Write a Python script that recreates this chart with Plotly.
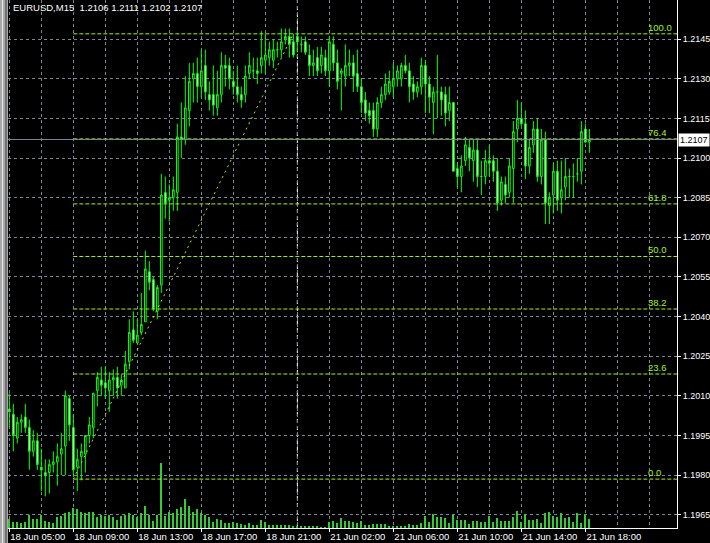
import plotly.graph_objects as go

# ---------------- data (EURUSD M15) ----------------
bar_index = list(range(146))

open_ = [1.2005,1.2003,1.1994,1.2000,1.2002,1.1998,1.1989,1.1993,1.1983,1.1981,
         1.1981,1.1984,1.1985,1.1988,1.1991,1.2009,1.1998,1.1983,1.1987,1.1988,
         1.1995,1.1998,1.2012,1.2016,1.2015,1.2012,1.2016,1.2017,1.2014,1.2013,
         1.2023,1.2035,1.2030,1.2034,1.2038,1.2057,1.2054,1.2042,1.2052,1.2087,
         1.2084,1.2085,1.2087,1.2108,1.2107,1.2118,1.2130,1.2132,1.2127,1.2135,
         1.2124,1.2124,1.2119,1.2124,1.2135,1.2135,1.2129,1.2127,1.2124,1.2124,
         1.2132,1.2133,1.2133,1.2135,1.2137,1.2138,1.2137,1.2141,1.2141,1.2145,
         1.2146,1.2144,1.2146,1.2143,1.2144,1.2139,1.2135,1.2138,1.2135,1.2138,
         1.2133,1.2143,1.2136,1.2132,1.2131,1.2135,1.2136,1.2132,1.2127,1.2122,
         1.2118,1.2118,1.2111,1.2121,1.2124,1.2125,1.2127,1.2130,1.2130,1.2135,
         1.2133,1.2128,1.2125,1.2127,1.2135,1.2128,1.2121,1.2125,1.2125,1.2124,
         1.2118,1.2121,1.2096,1.2093,1.2099,1.2104,1.2099,1.2103,1.2093,1.2093,
         1.2099,1.2099,1.2095,1.2084,1.2090,1.2087,1.2096,1.2111,1.2115,1.2113,
         1.2097,1.2105,1.2111,1.2093,1.2107,1.2082,1.2086,1.2095,1.2085,1.2089,
         1.2093,1.2093,1.2094,1.2095,1.2111,1.2106]
high = [1.2011,1.2007,1.2002,1.2003,1.2007,1.2001,1.1997,1.1996,1.1990,1.1986,
        1.1986,1.1989,1.1992,1.1996,1.2012,1.2010,1.2003,1.1990,1.1992,1.1995,
        1.2002,1.2011,1.2019,1.2021,1.2021,1.2019,1.2020,1.2021,1.2018,1.2027,
        1.2039,1.2042,1.2039,1.2049,1.2065,1.2061,1.2055,1.2052,1.2094,1.2093,
        1.2090,1.2093,1.2113,1.2121,1.2131,1.2136,1.2136,1.2138,1.2141,1.2141,
        1.2129,1.2135,1.2133,1.2140,1.2139,1.2138,1.2133,1.2135,1.2127,1.2135,
        1.2140,1.2138,1.2138,1.2148,1.2147,1.2144,1.2145,1.2144,1.2149,1.2149,
        1.2149,1.2147,1.2148,1.2146,1.2146,1.2143,1.2141,1.2142,1.2142,1.2141,
        1.2146,1.2146,1.2141,1.2134,1.2143,1.2141,1.2139,1.2141,1.2130,1.2125,
        1.2121,1.2121,1.2123,1.2127,1.2132,1.2133,1.2136,1.2135,1.2136,1.2139,
        1.2136,1.2131,1.2129,1.2138,1.2137,1.2131,1.2127,1.2139,1.2127,1.2127,
        1.2127,1.2121,1.2098,1.2101,1.2108,1.2107,1.2107,1.2107,1.2099,1.2103,
        1.2105,1.2101,1.2100,1.2093,1.2093,1.2100,1.2114,1.2122,1.2121,1.2118,
        1.2107,1.2114,1.2115,1.2111,1.2110,1.2087,1.2098,1.2099,1.2099,1.2100,
        1.2096,1.2098,1.2100,1.2114,1.2113,1.2111]
low = [1.1998,1.1989,1.1992,1.1996,1.1996,1.1982,1.1987,1.1982,1.1974,1.1972,
       1.1973,1.1981,1.1976,1.1980,1.1980,1.1993,1.1980,1.1974,1.1978,1.1981,
       1.1992,1.1994,1.2006,1.2010,1.2009,1.2004,1.2010,1.2009,1.2010,1.2013,
       1.2020,1.2030,1.2030,1.2033,1.2038,1.2050,1.2042,1.2039,1.2049,1.2077,
       1.2076,1.2080,1.2080,1.2100,1.2105,1.2112,1.2121,1.2121,1.2123,1.2122,
       1.2118,1.2116,1.2116,1.2121,1.2127,1.2126,1.2124,1.2121,1.2119,1.2121,
       1.2130,1.2130,1.2128,1.2132,1.2132,1.2135,1.2134,1.2138,1.2138,1.2143,
       1.2138,1.2138,1.2140,1.2140,1.2139,1.2131,1.2131,1.2131,1.2132,1.2131,
       1.2127,1.2133,1.2126,1.2118,1.2127,1.2131,1.2125,1.2125,1.2117,1.2114,
       1.2113,1.2108,1.2108,1.2119,1.2122,1.2124,1.2123,1.2127,1.2127,1.2132,
       1.2121,1.2122,1.2123,1.2124,1.2117,1.2117,1.2109,1.2115,1.2116,1.2112,
       1.2114,1.2095,1.2089,1.2087,1.2097,1.2095,1.2091,1.2089,1.2086,1.2090,
       1.2093,1.2091,1.2080,1.2082,1.2083,1.2085,1.2083,1.2106,1.2112,1.2092,
       1.2094,1.2102,1.2091,1.2090,1.2075,1.2075,1.2079,1.2080,1.2079,1.2084,
       1.2085,1.2085,1.2091,1.2090,1.2106,1.2102]
close = [1.2004,1.1995,1.2000,1.2001,1.1998,1.1989,1.1993,1.1984,1.1982,1.1980,
         1.1984,1.1985,1.1987,1.1990,1.2010,1.1999,1.1982,1.1986,1.1989,1.1995,
         1.1999,1.2011,1.2017,1.2014,1.2013,1.2016,1.2017,1.2013,1.2016,1.2022,
         1.2034,1.2031,1.2033,1.2037,1.2058,1.2053,1.2043,1.2051,1.2086,1.2083,
         1.2085,1.2088,1.2108,1.2107,1.2119,1.2129,1.2132,1.2127,1.2133,1.2125,
         1.2122,1.2120,1.2124,1.2135,1.2134,1.2130,1.2127,1.2124,1.2122,1.2131,
         1.2135,1.2133,1.2132,1.2138,1.2139,1.2141,1.2141,1.2141,1.2144,1.2146,
         1.2143,1.2139,1.2144,1.2143,1.2140,1.2135,1.2136,1.2133,1.2139,1.2133,
         1.2144,1.2136,1.2129,1.2133,1.2135,1.2136,1.2131,1.2127,1.2121,1.2117,
         1.2116,1.2111,1.2121,1.2124,1.2128,1.2129,1.2130,1.2133,1.2135,1.2133,
         1.2127,1.2125,1.2127,1.2135,1.2128,1.2123,1.2125,1.2125,1.2122,1.2117,
         1.2121,1.2095,1.2093,1.2097,1.2105,1.2100,1.2103,1.2093,1.2093,1.2099,
         1.2098,1.2095,1.2083,1.2091,1.2086,1.2097,1.2110,1.2115,1.2113,1.2097,
         1.2104,1.2111,1.2093,1.2107,1.2083,1.2085,1.2095,1.2084,1.2088,1.2093,
         1.2093,1.2093,1.2094,1.2110,1.2106,1.2107]
volume = [87,63,63,47,63,130,87,87,130,73,63,47,113,120,147,163,197,187,163,147,
          160,160,113,130,120,130,113,80,120,130,153,130,113,147,220,130,73,130,650,120,
          163,147,187,213,287,220,163,187,147,130,113,63,87,80,53,53,63,53,40,30,
          47,30,30,80,63,30,30,30,30,30,30,23,20,20,13,13,20,13,10,10,
          63,73,53,97,73,73,63,53,73,30,30,40,40,40,40,20,13,13,13,20,
          40,30,30,53,120,63,140,113,113,97,53,130,80,80,80,40,73,73,63,63,
          120,63,97,73,73,73,113,170,63,140,80,80,87,53,153,163,120,107,147,97,
          113,63,147,47,140,87]

time_tick_bars = [0, 16, 32, 48, 64, 80, 96, 112, 128, 144]
time_tick_labels = ["18 Jun 05:00", "18 Jun 09:00", "18 Jun 13:00", "18 Jun 17:00",
                    "18 Jun 21:00", "21 Jun 02:00", "21 Jun 06:00", "21 Jun 10:00",
                    "21 Jun 14:00", "21 Jun 18:00"]
price_ticks = [1.1965, 1.1980, 1.1995, 1.2010, 1.2025, 1.2040, 1.2055, 1.2070,
               1.2085, 1.2100, 1.2115, 1.2130, 1.2145, 1.2160]

fib_low, fib_high = 1.19785, 1.21470
fib_start_bar, fib_end_bar = 16, 71
fib_levels = [0.0, 23.6, 38.2, 50.0, 61.8, 76.4, 100.0]
day_separator_bar = 72
bid_price = 1.2107
header = "EURUSD,M15  1.2106 1.2111 1.2102 1.2107"

# ---------------- styling ----------------
FONT = "Liberation Sans"
FS = 9.5
FS_Y = 9
GRID = "#778899"
FIB = "#A4F02A"
X_RANGE = [-0.33, 166.9]
Y_RANGE = [1.19600, 1.21598]

fig = go.Figure()

fig.add_trace(go.Bar(
    x=bar_index, y=volume, yaxis="y2", width=0.22,
    marker=dict(color="#32CD32", line=dict(width=0)),
    hoverinfo="skip", showlegend=False))

fig.add_trace(go.Candlestick(
    x=bar_index, open=open_, high=high, low=low, close=close,
    increasing=dict(line=dict(color="#00FF00", width=1), fillcolor="black"),
    decreasing=dict(line=dict(color="#00FF00", width=1), fillcolor="white"),
    whiskerwidth=0, showlegend=False))

shapes = []
for lv in fib_levels:
    p = fib_low + (fib_high - fib_low) * lv / 100.0
    shapes.append(dict(type="line", xref="x", yref="y", x0=fib_start_bar, x1=X_RANGE[1],
                       y0=p, y1=p, line=dict(color=FIB, width=1, dash="4px,2px")))
shapes.append(dict(type="line", xref="x", yref="y", x0=fib_start_bar, x1=fib_end_bar,
                   y0=fib_low, y1=fib_high, line=dict(color=FIB, width=1, dash="2px,4px")))
shapes.append(dict(type="line", xref="x", yref="paper", x0=day_separator_bar, x1=day_separator_bar,
                   y0=0, y1=1, line=dict(color="white", width=1, dash="4px,3px"), layer="below"))
shapes.append(dict(type="line", xref="paper", yref="y", x0=0, x1=1, y0=bid_price, y1=bid_price,
                   line=dict(color=GRID, width=1)))
shapes.append(dict(type="rect", xref="paper", yref="paper", x0=-8/669, x1=0, y0=-15/528, y1=1,
                   fillcolor="#a8a8a8", line=dict(width=0)))
shapes.append(dict(type="rect", xref="paper", yref="paper", x0=-6/669, x1=-5/669, y0=-15/528, y1=1,
                   fillcolor="#e8e8e8", line=dict(width=0)))
shapes.append(dict(type="rect", xref="paper", yref="paper", x0=-3/669, x1=-1/669, y0=-15/528, y1=1,
                   fillcolor="#707070", line=dict(width=0)))

annotations = []
for lv in fib_levels:
    p = fib_low + (fib_high - fib_low) * lv / 100.0
    annotations.append(dict(xref="paper", yref="y", x=(647 - 8) / 669, y=p,
                            xanchor="left", yanchor="bottom", showarrow=False,
                            text=f"{lv:.1f}", font=dict(family=FONT, size=FS, color=FIB),
                            borderpad=0))
annotations.append(dict(xref="paper", yref="paper", x=4/669, y=1, xanchor="left", yanchor="top",
                        showarrow=False, text=header, yshift=-1,
                        font=dict(family=FONT, size=FS, color="white"), borderpad=0))
annotations.append(dict(xref="paper", yref="y", x=1, y=bid_price, xanchor="left", yanchor="middle",
                        showarrow=False, text=f"{bid_price:.4f}", xshift=1,
                        font=dict(family=FONT, size=FS_Y, color="black"),
                        bgcolor="white", borderpad=1))

fig.update_layout(
    width=710, height=543,
    margin=dict(l=8, r=33, t=0, b=15, autoexpand=False),
    paper_bgcolor="black", plot_bgcolor="black",
    showlegend=False, bargap=0, boxgap=0.4,
    font=dict(family=FONT, size=FS, color="white"),
    shapes=shapes, annotations=annotations,
    xaxis=dict(range=X_RANGE, rangeslider=dict(visible=False), automargin=False,
               tickmode="array", tickvals=time_tick_bars, ticktext=time_tick_labels,
               tickangle=0, ticks="outside", ticklen=3, tickcolor="white",
               ticklabelposition="outside right", ticklabelstandoff=0,
               tickfont=dict(family=FONT, size=FS, color="white"),
               showgrid=True, gridcolor=GRID, griddash="3px,3px", gridwidth=1,
               minor=dict(tickmode="linear", tick0=0, dtick=8, showgrid=True,
                          gridcolor=GRID, griddash="3px,3px", gridwidth=1, ticklen=0),
               showline=True, linecolor="white", linewidth=1, mirror=True, zeroline=False),
    yaxis=dict(range=Y_RANGE, side="right", tickmode="array", tickvals=price_ticks,
               ticktext=[f"{v:.4f}" for v in price_ticks], automargin=False,
               ticks="outside", ticklen=3, tickcolor="white", ticklabelstandoff=0,
               tickfont=dict(family=FONT, size=FS_Y, color="white"),
               showgrid=True, gridcolor=GRID, griddash="3px,3px", gridwidth=1,
               showline=True, linecolor="white", linewidth=1, mirror=True, zeroline=False),
    yaxis2=dict(overlaying="y", range=[0, 5280], visible=False),
)

fig.write_html("out.html", config={"displayModeBar": False},
               post_script="document.body.style.margin='0';document.body.style.background='black';")
